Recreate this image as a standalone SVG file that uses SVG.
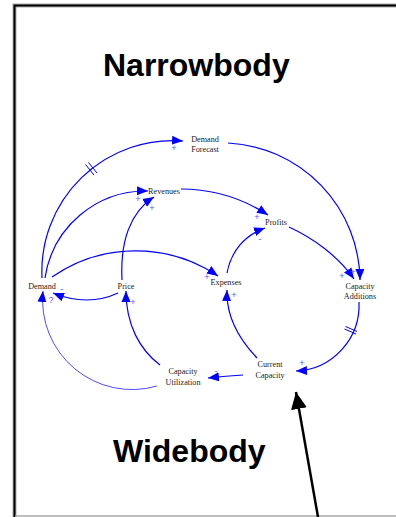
<svg xmlns="http://www.w3.org/2000/svg" width="396" height="517" viewBox="0 0 396 517">
<style>
.lbl{font-family:"Liberation Serif","Times New Roman",serif;font-size:8.2px;fill:#222;text-anchor:middle}
.title{font-family:"Liberation Sans",Arial,sans-serif;font-size:32px;font-weight:bold;fill:#000}
.pol{font-family:"Liberation Sans",Arial,sans-serif;font-size:9px;fill:#5555ff;text-anchor:middle}
.c{fill:none;stroke:#0000ff;stroke-width:1.2;marker-end:url(#ah)}
.thin{stroke-width:0.7}
.dl{stroke:#0000ff;stroke-width:1}
</style>
<defs>
<marker id="ah" markerUnits="userSpaceOnUse" markerWidth="12" markerHeight="10" viewBox="0 0 12 10" refX="11" refY="5" orient="auto">
<path d="M0,0.5 L11,5 L0,9.5 Z" fill="#0000ff"/>
</marker>
<marker id="bh" markerUnits="userSpaceOnUse" markerWidth="18" markerHeight="18" viewBox="0 0 18 18" refX="17" refY="9" orient="auto">
<path d="M0,1 L17,9 L0,17 Z" fill="#000"/>
</marker>
</defs>
<rect width="396" height="517" fill="#fff"/>
<g id="frame">
<path d="M14.5,517 V5.5 H396" fill="none" stroke="#aaa" stroke-width="4"/>
<path d="M14.5,517 V5.5 H396" fill="none" stroke="#000" stroke-width="2"/>
<path d="M15,516 H396" stroke="#aaa" stroke-width="1.5"/>
</g>
<text class="title" x="103" y="76">Narrowbody</text>
<text class="title" x="113" y="462">Widebody</text>
<g id="connectors">
<path class="c" d="M42,278 A131,131 0 0 1 183,141"/>
<path class="dl" d="M85.5,164.5 L94,175 M88.5,162.5 L97,173"/>
<path class="c" d="M45,278 A102,102 0 0 1 148,191"/>
<path class="c" d="M122,280 C120,242 130,212 154,197"/>
<path class="c" d="M52,277 A147,147 0 0 1 218,276"/>
<path class="c" d="M181,189 C215,189 245,200 268,215"/>
<path class="c" d="M227,273 C231,251 245,235 265,228"/>
<path class="c" d="M289,227 C313,238 338,256 354,279"/>
<path class="c" d="M228,143 A139,139 0 0 1 360,280"/>
<path class="c" d="M359,302 A66,66 0 0 1 296,371"/>
<path class="dl" d="M345.5,326.5 L357,331.5 M344.5,329 L356,334"/>
<path class="c" d="M257,358 C238,338 226,315 227,290"/>
<path class="c" d="M243,375 Q226,376 208,378"/>
<path class="c" d="M160,365 C140,350 126,325 126,291"/>
<path class="c thin" d="M157,386 A89.5,89.5 0 0 1 43,291"/>
<path class="c" d="M118,293 Q88,307 53,293"/>
<path d="M318,517 L296,392" stroke="#000" stroke-width="2.5" fill="none" marker-end="url(#bh)"/>
</g>
<g id="polarities">
<text class="pol" x="174" y="151">+</text>
<text class="pol" x="138" y="202">+</text>
<text class="pol" x="152" y="211">+</text>
<text class="pol" x="207" y="280">+</text>
<text class="pol" x="257" y="220">+</text>
<text class="pol" x="260" y="242">-</text>
<text class="pol" x="342" y="279">+</text>
<text class="pol" x="353" y="275">+</text>
<text class="pol" x="302" y="366">+</text>
<text class="pol" x="234" y="298">+</text>
<text class="pol" x="216" y="374">-</text>
<text class="pol" x="133" y="305">+</text>
<text class="pol" x="51" y="303">?</text>
<text class="pol" x="62" y="292">-</text>
</g>
<g id="demand_forecast"><text class="lbl" x="205" y="142">Demand</text><text class="lbl" x="205" y="152">Forecast</text></g>
<g id="revenues"><text class="lbl" x="164" y="194">Revenues</text></g>
<g id="profits"><text class="lbl" x="276" y="225">Profits</text></g>
<g id="expenses"><text class="lbl" x="226" y="285">Expenses</text></g>
<g id="capacity_additions"><text class="lbl" x="360" y="289">Capacity</text><text class="lbl" x="360" y="299">Additions</text></g>
<g id="demand"><text class="lbl" x="42" y="289">Demand</text></g>
<g id="price"><text class="lbl" x="126" y="289">Price</text></g>
<g id="capacity_utilization"><text class="lbl" x="183" y="374">Capacity</text><text class="lbl" x="183" y="385">Utilization</text></g>
<g id="current_capacity"><text class="lbl" x="270" y="367">Current</text><text class="lbl" x="270" y="378">Capacity</text></g>
</svg>
